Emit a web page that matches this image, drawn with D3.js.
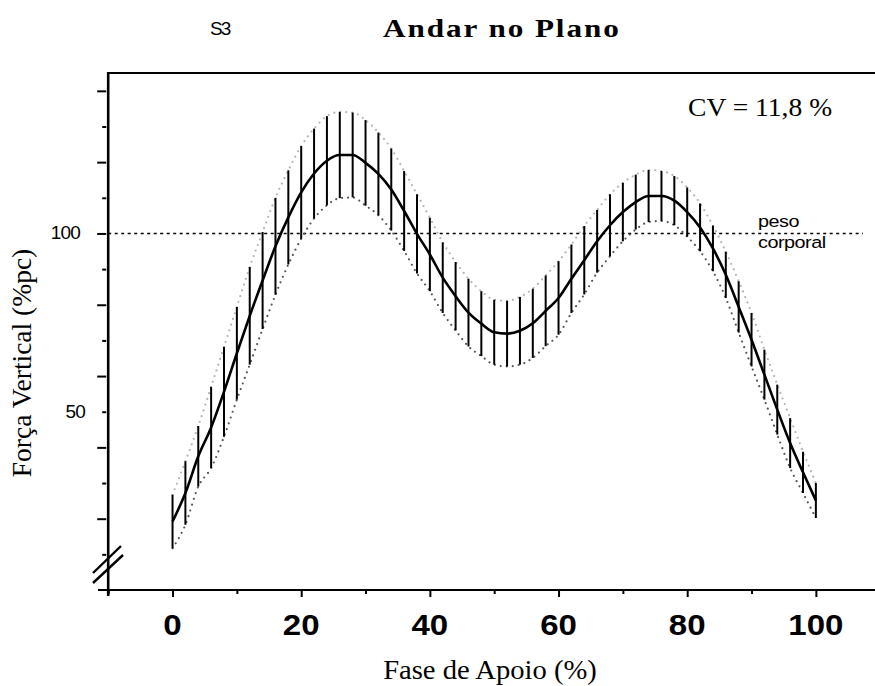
<!DOCTYPE html>
<html>
<head>
<meta charset="utf-8">
<script src="https://cdn.jsdelivr.net/npm/d3@7"></script>
<style>
  html, body { margin: 0; padding: 0; background: #fff; }
  svg { display: block; }
</style>
</head>
<body>
<svg id="chart" width="875" height="686"></svg>
<script>
// Stance phase (%) at which each mean / SD was sampled
const phase = [0, 2, 4, 6, 8, 10, 12, 14, 16, 18, 20, 22, 24, 26, 28, 30, 32, 34, 36, 38,
               40, 42, 44, 46, 48, 50, 52, 54, 56, 58, 60, 62, 64, 66, 68, 70, 72, 74, 76, 78,
               80, 82, 84, 86, 88, 90, 92, 94, 96, 98, 100];
// Mean vertical ground reaction force (% body weight)
const meanForce = [19.2, 27.2, 37.5, 45.6, 55.6, 66.4, 76.9, 86.8, 96.4, 104.5,
                   111.5, 116.8, 120.4, 122.0, 122.0, 119.8, 116.7, 112.3, 106.3, 99.9,
                   94.1, 87.6, 82.4, 77.8, 74.7, 72.3, 71.9, 72.7, 74.8, 78.3,
                   81.9, 87.3, 92.5, 97.8, 102.3, 106.0, 108.8, 110.5, 110.5, 109.2,
                   106.0, 101.7, 95.8, 88.4, 79.4, 70.2, 60.4, 50.6, 41.2, 33.0, 25.1];
// Standard deviation at each sample
const sdForce = [7.5, 8.9, 8.5, 11.4, 12.6, 13.0, 13.7, 13.6, 13.6, 13.2,
                 13.0, 12.6, 12.5, 12.1, 11.9, 12.0, 11.6, 11.5, 11.2, 11.1,
                 10.3, 9.9, 9.6, 9.5, 9.1, 9.1, 9.2, 9.5, 9.7, 9.9,
                 10.3, 9.6, 9.6, 8.8, 8.7, 8.2, 7.7, 7.3, 7.0, 6.9,
                 6.9, 6.7, 6.4, 6.5, 7.2, 7.5, 7.0, 7.0, 7.0, 5.8, 4.9];

const xTickValues = [0, 20, 40, 60, 80, 100];
const xMinorTicks = [-10, 10, 30, 50, 70, 90];
const yMajorTicks = [20, 40, 60, 80, 100, 120, 140];
const yMinorTicks = [10, 30, 50, 70, 90, 110, 130];
const yLabelled = [50, 100];
const bodyWeight = 100;

const titleText = "Andar no Plano";
const subjectText = "S3";
const cvText = "CV = 11,8 %";
const xTitle = "Fase de Apoio (%)";
const yTitle = "Força Vertical (%pc)";
const refLabel = ["peso", "corporal"];

const SANS = "'Liberation Sans', Arial, sans-serif";
const SERIF = "'Liberation Serif', 'Times New Roman', serif";

const svg = d3.select("#chart");

const x = d3.scaleLinear().domain([-10, 110]).range([108.2, 880.2]);
const y = d3.scaleLinear().domain([0, 145]).range([590, 73]);

const rows = phase.map((p, i) => ({ p, m: meanForce[i], s: sdForce[i] }));

// Text helper: glyphs are drawn slightly wide, so allow a horizontal stretch
function label(g, tx, ty, str, opts) {
  const t = g.append("text")
    .attr("transform", `translate(${tx},${ty}) scale(${opts.sx || 1},1)`)
    .attr("font-family", opts.family)
    .attr("font-size", opts.size)
    .attr("text-anchor", opts.anchor || "start")
    .text(str);
  if (opts.weight) t.attr("font-weight", opts.weight);
  if (opts.ls) t.attr("letter-spacing", opts.ls);
  return t;
}

// Frame: top border and left/bottom axes
svg.append("line").attr("x1", x(-10)).attr("x2", 875).attr("y1", y(145)).attr("y2", y(145))
  .attr("stroke", "#000").attr("stroke-width", 2);
svg.append("line").attr("x1", x(-10)).attr("x2", x(-10)).attr("y1", y(145) - 1).attr("y2", 596)
  .attr("stroke", "#000").attr("stroke-width", 2.6);
svg.append("line").attr("x1", 98).attr("x2", 875).attr("y1", y(0)).attr("y2", y(0))
  .attr("stroke", "#000").attr("stroke-width", 2);

// Y ticks (outer side)
const yAxisMajor = d3.axisLeft(y).tickValues(yMajorTicks).tickSize(9).tickFormat("");
const yAxisMinor = d3.axisLeft(y).tickValues(yMinorTicks).tickSize(4).tickFormat("");
[yAxisMajor, yAxisMinor].forEach(ax => {
  const g = svg.append("g").attr("transform", `translate(${x(-10) - 2},0)`).call(ax);
  g.select(".domain").remove();
  g.selectAll(".tick line").attr("stroke", "#000").attr("stroke-width", 2);
});

// X ticks (below axis)
const xAxisMajor = d3.axisBottom(x).tickValues(xTickValues).tickSize(6).tickFormat("");
const xAxisMinor = d3.axisBottom(x).tickValues(xMinorTicks).tickSize(3).tickFormat("");
[xAxisMajor, xAxisMinor].forEach(ax => {
  const g = svg.append("g").attr("transform", `translate(0,${y(0) + 1})`).call(ax);
  g.select(".domain").remove();
  g.selectAll(".tick line").attr("stroke", "#000").attr("stroke-width", 2);
});

// X tick labels
const xLab = svg.append("g");
xTickValues.forEach(v => label(xLab, x(v), 635, String(v),
  { family: SANS, size: 30, weight: "bold", anchor: "middle", sx: 1.1 }));

// Y tick labels
const yLab = svg.append("g");
yLabelled.forEach(v => label(yLab, v === 100 ? 80 : 85, y(v) + 6, String(v),
  { family: SANS, size: 19, anchor: "end", ls: -0.8 }));

// Axis break marks
const breakMarks = [[93, 573, 121, 546], [93, 583, 123, 555]];
svg.append("g").selectAll("line").data(breakMarks).join("line")
  .attr("x1", d => d[0]).attr("y1", d => d[1]).attr("x2", d => d[2]).attr("y2", d => d[3])
  .attr("stroke", "#000").attr("stroke-width", 2.4);

// Body-weight reference line
svg.append("line")
  .attr("x1", x(-10)).attr("x2", 863).attr("y1", y(bodyWeight)).attr("y2", y(bodyWeight))
  .attr("stroke", "#000").attr("stroke-width", 1.6).attr("stroke-dasharray", "3,3.5");
label(svg, 758, 227, refLabel[0], { family: SANS, size: 16.5, sx: 1.2, ls: -0.4 });
label(svg, 758, 248, refLabel[1], { family: SANS, size: 16.5, sx: 1.2, ls: -0.4 });

// SD envelopes (dotted)
const envLine = acc => d3.line().x(d => x(d.p)).y(acc).curve(d3.curveMonotoneX);
svg.append("path").datum(rows)
  .attr("d", envLine(d => y(d.m + d.s)))
  .attr("fill", "none").attr("stroke", "#b4b4b4").attr("stroke-width", 2.2)
  .attr("stroke-linecap", "round").attr("stroke-dasharray", "0,6");
svg.append("path").datum(rows)
  .attr("d", envLine(d => y(d.m - d.s)))
  .attr("fill", "none").attr("stroke", "#555").attr("stroke-width", 2.2)
  .attr("stroke-linecap", "round").attr("stroke-dasharray", "0,6");

// Error bars (mean ± SD)
svg.append("g").selectAll("line").data(rows).join("line")
  .attr("x1", d => x(d.p)).attr("x2", d => x(d.p))
  .attr("y1", d => y(d.m + d.s)).attr("y2", d => y(d.m - d.s))
  .attr("stroke", "#000").attr("stroke-width", 2);

// Mean curve
svg.append("path").datum(rows)
  .attr("d", d3.line().x(d => x(d.p)).y(d => y(d.m)).curve(d3.curveMonotoneX))
  .attr("fill", "none").attr("stroke", "#000").attr("stroke-width", 2.6);

// Titles and annotations
label(svg, 210, 35, subjectText, { family: SANS, size: 19, ls: -2 });
label(svg, 383, 37, titleText, { family: SERIF, size: 26, weight: "bold", sx: 1.2, ls: 1.6 });
label(svg, 688, 116, cvText, { family: SERIF, size: 26, sx: 1.06 });
label(svg, 490, 679, xTitle, { family: SERIF, size: 27, anchor: "middle", sx: 1.06 });
svg.append("text")
  .attr("transform", "translate(31,363) rotate(-90)")
  .attr("text-anchor", "middle")
  .attr("font-family", SERIF)
  .attr("font-size", 27.5).text(yTitle);
</script>
</body>
</html>
